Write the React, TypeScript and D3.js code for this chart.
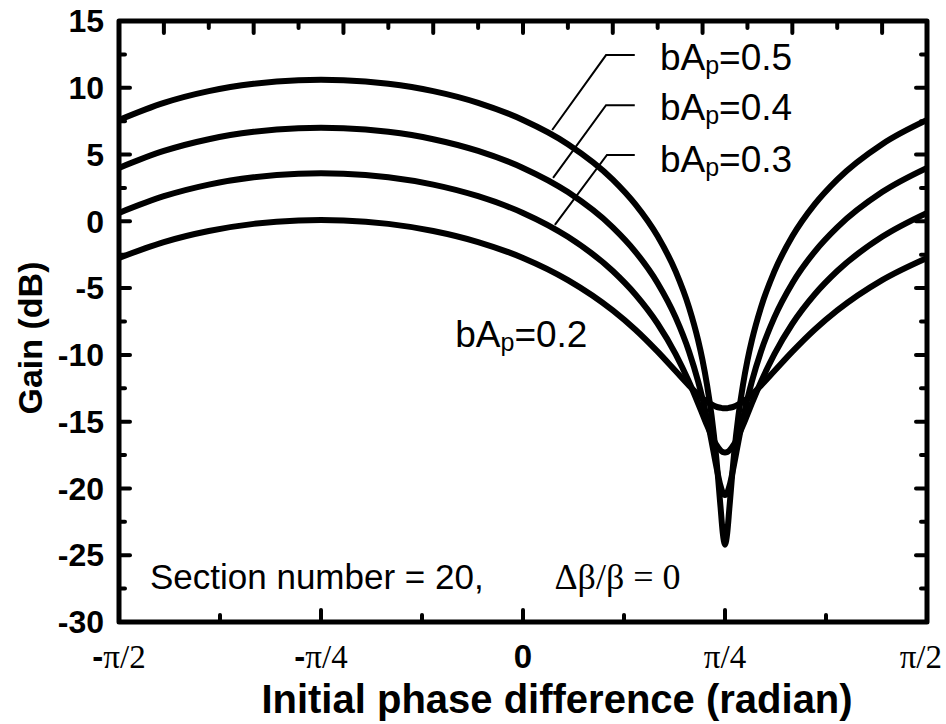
import React from 'react';
import * as d3 from 'd3';

// Initial phase difference in degrees (−90° … 90° ↔ −π/2 … π/2)
const phaseDeg = [
  -90, -80, -70, -60, -50, -45, -40, -30, -20, -10, 0, 10, 20, 25, 30, 34, 37, 39, 40, 41,
  42, 43, 44, 44.5, 45, 45.5, 46, 47, 48, 49, 50, 51, 53, 56, 60, 65, 70, 80, 90,
];

// Gain (dB) for each pump level bA_p
const gainBAp02 = [
  -2.74, -1.55, -0.72, -0.19, 0.07, 0.1, 0.07, -0.19, -0.72, -1.55, -2.74, -4.4, -6.67, -8.1,
  -9.76, -11.21, -12.3, -12.96, -13.25, -13.5, -13.71, -13.87, -13.96, -13.99, -13.99, -13.99,
  -13.96, -13.87, -13.71, -13.5, -13.25, -12.96, -12.3, -11.21, -9.76, -8.1, -6.67, -4.4, -2.74,
];
const gainBAp03 = [
  0.63, 1.88, 2.75, 3.3, 3.57, 3.6, 3.57, 3.3, 2.75, 1.88, 0.63, -1.16, -3.72, -5.46, -7.67,
  -9.94, -12.03, -13.62, -14.45, -15.28, -16.05, -16.7, -17.15, -17.27, -17.31, -17.27, -17.15,
  -16.7, -16.05, -15.28, -14.45, -13.62, -12.03, -9.94, -7.67, -5.46, -3.72, -1.16, 0.63,
];
const gainBAp04 = [
  4.0, 5.27, 6.15, 6.7, 6.97, 7.0, 6.97, 6.7, 6.15, 5.27, 4.0, 2.19, -0.45, -2.26, -4.63, -7.19,
  -9.76, -11.97, -13.29, -14.78, -16.46, -18.24, -19.81, -20.32, -20.5, -20.32, -19.81, -18.24,
  -16.46, -14.78, -13.29, -11.97, -9.76, -7.19, -4.63, -2.26, -0.45, 2.19, 4.0,
];
const gainBAp05 = [
  7.59, 8.87, 9.75, 10.3, 10.57, 10.6, 10.57, 10.3, 9.75, 8.87, 7.59, 5.78, 3.13, 1.29, -1.12,
  -3.75, -6.46, -8.89, -10.41, -12.25, -14.53, -17.5, -21.37, -23.32, -24.21, -23.32, -21.37,
  -17.5, -14.53, -12.25, -10.41, -8.89, -6.46, -3.75, -1.12, 1.29, 3.13, 5.78, 7.59,
];

const series = [gainBAp02, gainBAp03, gainBAp04, gainBAp05];

// Curve labels: value text, label anchor (deg, dB), leader polyline (deg, dB)
const labelValues = ['0.2', '0.3', '0.4', '0.5'];
const labelAnchors: [number, number][] = [[-15.1, -9.4], [30.5, 3.7], [30.5, 7.6], [30.5, 11.3]];
const leaderLines: ([number, number][] | null)[] = [
  null,
  [[7.1, -0.27], [18.7, 4.97], [24.9, 4.97]],
  [[6.7, 3.25], [18.5, 8.7], [24.9, 8.7]],
  [[6.5, 6.84], [18.5, 12.45], [24.9, 12.45]],
];

// Axis ticks
const yMajorTicks = [-30, -25, -20, -15, -10, -5, 0, 5, 10, 15];
const yMinorTicks = [-27.5, -22.5, -17.5, -12.5, -7.5, -2.5, 2.5, 7.5, 12.5];
const xTickLabels = ['-π/2', '-π/4', '0', 'π/4', 'π/2'];
const xMajorTicks = [-Math.PI / 2, -Math.PI / 4, 0, Math.PI / 4, Math.PI / 2];
const xMinorTicks = [-3 * Math.PI / 8, -Math.PI / 8, Math.PI / 8, 3 * Math.PI / 8];
const topTicksDeg = [-80, -70, -60, -50, -40, -30, -20, -10, 0, 10, 20, 30, 40, 50, 60, 70, 80];

const noteText = 'Section number = 20,';
const noteMath = 'Δβ/β = 0';
const noteAnchorDeg = [-83.1, 7.0];
const noteGain = -27.5;

const SANS = '"Liberation Sans", Arial, Helvetica, sans-serif';
const SERIF = '"Liberation Serif", "Times New Roman", serif';

const rad = (d: number) => (d * Math.PI) / 180;

export default function App() {
  const W = 946;
  const H = 724;
  const left = 119;
  const right = 927;
  const top = 21;
  const bottom = 622;

  const x = d3.scaleLinear().domain([-Math.PI / 2, Math.PI / 2]).range([left, right]);
  const y = d3.scaleLinear().domain([-30, 15]).range([bottom, top]);

  const curve = d3
    .line<number>()
    .x((_, i) => x(rad(phaseDeg[i])))
    .y((d) => y(d))
    .curve(d3.curveMonotoneX);

  const leader = d3
    .line<[number, number]>()
    .x((d) => x(rad(d[0])))
    .y((d) => y(d[1]));

  const tickStroke = { stroke: '#000', strokeWidth: 4, strokeLinecap: 'round' as const };

  return (
    <div style={{ position: 'absolute', left: 0, top: 0 }}>
      <svg width={W} height={H} viewBox={`0 0 ${W} ${H}`} style={{ display: 'block', background: '#fff' }}>
        <defs>
          <clipPath id="plot-area">
            <rect x={left} y={top} width={right - left} height={bottom - top} />
          </clipPath>
        </defs>

        {/* gain curves */}
        <g clipPath="url(#plot-area)">
          {series.map((s, i) => (
            <path key={i} d={curve(s) ?? ''} fill="none" stroke="#000" strokeWidth={6} strokeLinejoin="round" />
          ))}
        </g>

        {/* leader lines */}
        {leaderLines.map((pts, i) =>
          pts ? <path key={i} d={leader(pts) ?? ''} fill="none" stroke="#000" strokeWidth={2} /> : null,
        )}

        {/* curve labels */}
        {labelValues.map((v, i) => (
          <text
            key={v}
            x={x(rad(labelAnchors[i][0]))}
            y={y(labelAnchors[i][1])}
            fontFamily={SANS}
            fontSize={37}
            fill="#000"
          >
            <tspan>bA</tspan>
            <tspan fontSize={25} dy={4}>p</tspan>
            <tspan dy={-4}>={v}</tspan>
          </text>
        ))}

        {/* annotation */}
        <text x={x(rad(noteAnchorDeg[0]))} y={y(noteGain)} fontFamily={SANS} fontSize={35} fill="#000">
          {noteText}
        </text>
        <text x={x(rad(noteAnchorDeg[1]))} y={y(noteGain)} fontFamily={SERIF} fontSize={36} fill="#000">
          {noteMath}
        </text>

        {/* ticks: left and right */}
        {yMajorTicks.map((t) => (
          <g key={`ym${t}`}>
            <line x1={left} x2={left + 11} y1={y(t)} y2={y(t)} {...tickStroke} />
            <line x1={right} x2={right - 11} y1={y(t)} y2={y(t)} {...tickStroke} />
          </g>
        ))}
        {yMinorTicks.map((t) => (
          <g key={`yn${t}`}>
            <line x1={left} x2={left + 6} y1={y(t)} y2={y(t)} {...tickStroke} />
            <line x1={right} x2={right - 6} y1={y(t)} y2={y(t)} {...tickStroke} />
          </g>
        ))}
        {/* bottom ticks */}
        {xMajorTicks.map((t, i) => (
          <line key={`xm${i}`} x1={x(t)} x2={x(t)} y1={bottom} y2={bottom - 12} {...tickStroke} />
        ))}
        {xMinorTicks.map((t, i) => (
          <line key={`xn${i}`} x1={x(t)} x2={x(t)} y1={bottom} y2={bottom - 7} {...tickStroke} />
        ))}
        {/* top ticks */}
        {topTicksDeg.map((d) => (
          <line
            key={`xt${d}`}
            x1={x(rad(d))}
            x2={x(rad(d))}
            y1={top}
            y2={top + (d % 20 === 0 ? 12 : 7)}
            {...tickStroke}
          />
        ))}

        {/* frame */}
        <rect
          x={left}
          y={top}
          width={right - left}
          height={bottom - top}
          fill="none"
          stroke="#000"
          strokeWidth={5}
          strokeLinejoin="round"
        />

        {/* y tick labels */}
        {yMajorTicks.map((t) => (
          <text
            key={`yl${t}`}
            x={104}
            y={y(t)}
            dy="0.35em"
            textAnchor="end"
            fontFamily={SANS}
            fontWeight="bold"
            fontSize={32}
            fill="#000"
          >
            {t}
          </text>
        ))}

        {/* x tick labels */}
        {xMajorTicks.map((t, i) => {
          const lbl = xTickLabels[i];
          const neg = lbl.startsWith('-');
          const body = neg ? lbl.slice(1) : lbl;
          const last = i === xMajorTicks.length - 1;
          return (
            <text
              key={`xl${i}`}
              x={last ? W - 4 : x(t)}
              y={668}
              textAnchor={last ? 'end' : 'middle'}
              fill="#000"
              fontSize={33}
            >
              {neg && (
                <tspan fontFamily={SANS} fontWeight="bold">
                  -
                </tspan>
              )}
              <tspan
                fontFamily={body === '0' ? SANS : SERIF}
                fontWeight={body === '0' ? 'bold' : 'normal'}
              >
                {body}
              </tspan>
            </text>
          );
        })}

        {/* axis titles */}
        <text x={557} y={713} textAnchor="middle" fontFamily={SANS} fontWeight="bold" fontSize={40} fill="#000">
          Initial phase difference (radian)
        </text>
        <text
          transform="translate(42,338) rotate(-90)"
          textAnchor="middle"
          fontFamily={SANS}
          fontWeight="bold"
          fontSize={34}
          fill="#000"
        >
          Gain (dB)
        </text>
      </svg>
    </div>
  );
}
